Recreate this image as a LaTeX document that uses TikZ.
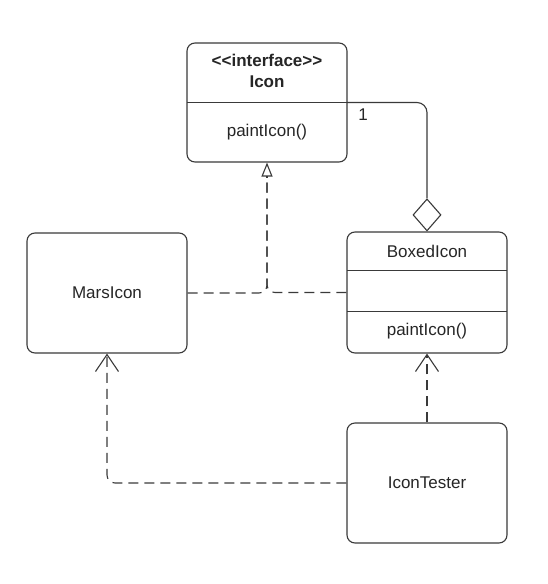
\documentclass[tikz,border=0pt]{standalone}
\usepackage{fontspec}
\setmainfont{Liberation Sans}
\usetikzlibrary{arrows.meta,shapes.geometric,calc}
\definecolor{ink}{HTML}{3A3A3A}
\begin{document}
\begin{tikzpicture}[x=1pt,y=-1pt,
  every node/.style={font=\fontsize{17}{20}\selectfont, text=black!85},
  classbox/.style={draw=ink, line width=1.1pt, rounded corners=8pt, fill=white,
    minimum width=160pt, inner sep=0pt},
  divider/.style={draw=ink, line width=1.1pt},
  dep/.style={draw=ink, line width=1.1pt, dash pattern=on 10pt off 6pt, rounded corners=8pt},
  assoc/.style={draw=ink, line width=1.1pt, rounded corners=10pt},
  realize/.style={draw=ink, solid, line width=1.1pt,
    -{Triangle[open,length=14pt,width=11pt,line width=1.1pt]}},
  use/.style={-{Straight Barb[length=17pt,width=23pt,line width=1.1pt]}},
  label/.style={inner sep=0pt}]
\useasboundingbox (0,0) rectangle (547,584);

% Icon interface
\node[classbox, minimum height=119pt] (icon) at (267,102.5) {};
\draw[divider] (187,102.5) -- coordinate[pos=1] (icondiv) (347,102.5);
\node[label, font=\fontsize{17}{20}\selectfont\bfseries] (stereo) at (267,60) {<\kern0pt<interface>\kern0pt>};
\node[label, font=\fontsize{17}{20}\selectfont\bfseries] (iconname) at (267,82) {Icon};
\node[label] (iconop) at (267,132) {paintIcon()};

% MarsIcon
\node[classbox, minimum height=120pt] (mars) at (107,293) {};
\node[label] (marsname) at (107,293) {MarsIcon};

% BoxedIcon
\node[classbox, minimum height=121pt] (boxed) at (427,292.5) {};
\draw[divider] (347,270.5) -- (507,270.5);
\draw[divider] (347,311.5) -- (507,311.5);
\node[label] (boxedname) at (427,251) {BoxedIcon};
\node[label] (boxedop) at (427,331) {paintIcon()};

% IconTester
\node[classbox, minimum height=120pt] (tester) at (427,483) {};
\node[label] (testername) at (427,483) {IconTester};

% aggregation diamond on BoxedIcon
\node[draw=ink, line width=1.1pt, fill=white, shape=diamond, inner sep=0pt,
  minimum width=28pt, minimum height=32pt, anchor=south] (agg) at (boxed.north) {};

% connectors
\draw[assoc] (icondiv) -| (agg.north);
\node[label] (mult) at (363,115) {1};

\coordinate (realbase) at ($(icon.south)+(0,15)$);
\draw[dep] (mars.east) -| (realbase);
\draw[dep] (boxed.west) -| (realbase);
\draw[realize] (realbase) -- (icon.south);
\draw[dep, use] (tester.west) -| (mars.south);
\draw[dep, use] (tester.north) -- (boxed.south);
\end{tikzpicture}
\end{document}
